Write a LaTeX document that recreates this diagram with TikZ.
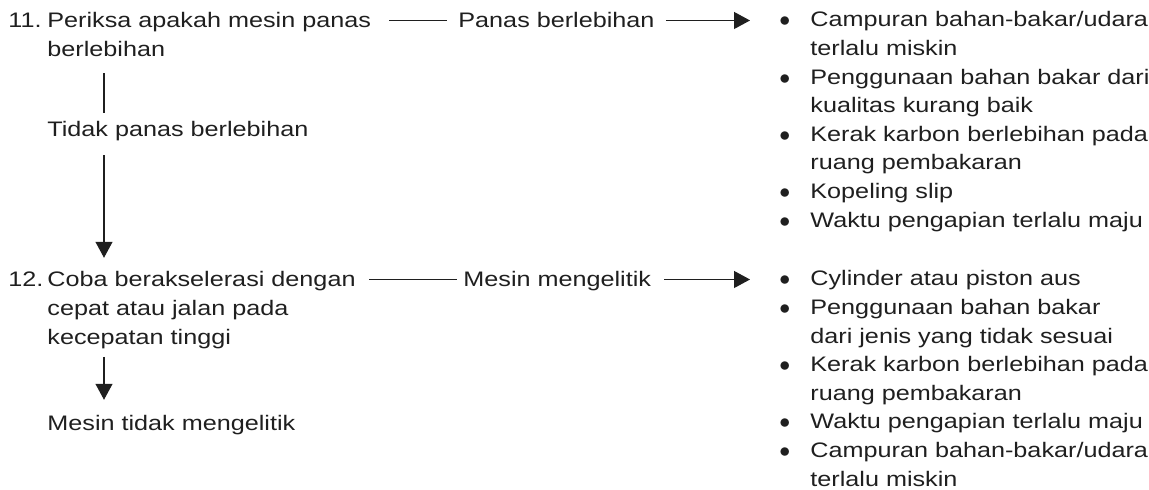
\documentclass[tikz,border=0pt]{standalone}
\usepackage{fontspec}
\setmainfont{Liberation Sans}[FakeStretch=1.2]
\usepackage{xcolor}
\usetikzlibrary{arrows.meta}
\definecolor{ink}{gray}{0.12}
\newcommand{\textlines}[1]{\begin{tabular}[t]{@{}l@{}}#1\end{tabular}}
\newcommand{\causelist}[1]{\begin{tabular}[t]{@{}l@{}l@{}}#1\end{tabular}}
\newcommand{\dotitem}{\makebox[15.5pt][l]{$\bullet$}}

\begin{document}
\begin{tikzpicture}[x=0.5pt, y=-0.5pt,
    txt/.style={font=\fontsize{10.5}{14.3}\selectfont, inner sep=0pt, text=ink, anchor=base west},
    tag/.style={txt, text height=7.5pt, text depth=0pt},
    link/.style={draw=ink, line width=0.6pt},
    flow/.style={link, -{Triangle[length=8pt, width=8.5pt]}}]
  \useasboundingbox (0,0) rectangle (1149,490);

  % step 11 and its outcome
  \node[txt] (no11) at (8,28) {11.};
  \node[txt] (step11) at (47,28) {\textlines{Periksa apakah mesin panas\\berlebihan}};
  \node[txt] (noheat) at (47,137) {\textlines{Tidak panas berlebihan}};

  % step 12 and its outcome
  \node[txt] (no12) at (8,287) {12.};
  \node[txt] (step12) at (47,287) {\textlines{Coba berakselerasi dengan\\cepat atau jalan pada\\kecepatan tinggi}};
  \node[txt] (noknock) at (47,431) {\textlines{Mesin tidak mengelitik}};

  % findings
  \node[tag] (heat) at (458,28) {Panas berlebihan};
  \node[tag] (knock) at (463,287) {Mesin mengelitik};

  % possible causes
  \node[txt] (heatcauses) at (779,27) {\causelist{
    \dotitem & Campuran bahan-bakar/udara\\
             & terlalu miskin\\
    \dotitem & Penggunaan bahan bakar dari\\
             & kualitas kurang baik\\
    \dotitem & Kerak karbon berlebihan pada\\
             & ruang pembakaran\\
    \dotitem & Kopeling slip\\
    \dotitem & Waktu pengapian terlalu maju}};
  \node[txt] (knockcauses) at (779,286) {\causelist{
    \dotitem & Cylinder atau piston aus\\
    \dotitem & Penggunaan bahan bakar\\
             & dari jenis yang tidak sesuai\\
    \dotitem & Kerak karbon berlebihan pada\\
             & ruang pembakaran\\
    \dotitem & Waktu pengapian terlalu maju\\
    \dotitem & Campuran bahan-bakar/udara\\
             & terlalu miskin}};

  % vertical flow
  \coordinate (spine) at (104,0);
  \draw[link, shorten <=3.8pt, shorten >=1.9pt] (spine |- step11.south) -- (spine |- noheat.north);
  \draw[flow, shorten <=4.7pt, shorten >=4.4pt] (spine |- noheat.south) -- (spine |- step12.north);
  \draw[flow, shorten <=1.9pt, shorten >=5.4pt] (spine |- step12.south) -- (spine |- noknock.north);

  % horizontal flow
  \draw[link, shorten <=9pt, shorten >=5.5pt] (step11.east |- heat.west) -- (heat.west);
  \draw[flow, shorten <=5.5pt, shorten >=14.5pt] (heat.east) -- (heatcauses.west |- heat.east);
  \draw[link, shorten <=6.5pt, shorten >=3pt] (step12.east |- knock.west) -- (knock.west);
  \draw[flow, shorten <=6.5pt, shorten >=14.5pt] (knock.east) -- (knockcauses.west |- knock.east);
\end{tikzpicture}
\end{document}
